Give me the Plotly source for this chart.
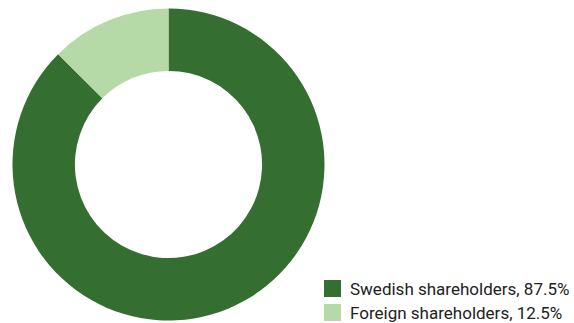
import plotly.graph_objects as go

# Shareholder distribution
labels = ["Swedish shareholders", "Foreign shareholders"]
shares = [87.5, 12.5]
colors = ["#346e30", "#b5d9a7"]

W, H = 574, 323

fig = go.Figure(
    go.Pie(
        labels=labels,
        values=shares,
        hole=0.6,
        sort=False,
        direction="clockwise",
        rotation=0,
        marker=dict(colors=colors, line=dict(width=0)),
        textinfo="none",
        hoverinfo="label+percent",
        showlegend=False,
        domain=dict(x=[12.5 / W, 324.5 / W], y=[2.5 / H, 314.5 / H]),
    )
)

# Custom legend: larger square swatches with labels
shapes = []
annotations = []
legend_x0 = 324
row_top = [280, 304]
sw = 17
for i, (lab, val, col) in enumerate(zip(labels, shares, colors)):
    y0 = row_top[i]
    shapes.append(dict(
        type="rect", xref="paper", yref="paper",
        x0=legend_x0 / W, x1=(legend_x0 + sw) / W,
        y0=1 - (y0 + sw) / H, y1=1 - y0 / H,
        fillcolor=col, line=dict(width=0),
    ))
    annotations.append(dict(
        xref="paper", yref="paper",
        x=(legend_x0 + sw + 7) / W, y=1 - (y0 + sw / 2) / H,
        xanchor="left", yanchor="middle",
        text=f"{lab}, {val}%",
        showarrow=False,
        font=dict(family="Roboto", size=17, color="#222222"),
    ))

fig.update_layout(
    width=W, height=H,
    margin=dict(l=0, r=0, t=0, b=0),
    paper_bgcolor="white",
    plot_bgcolor="white",
    shapes=shapes,
    annotations=annotations,
)

fig.write_html("out.html")
